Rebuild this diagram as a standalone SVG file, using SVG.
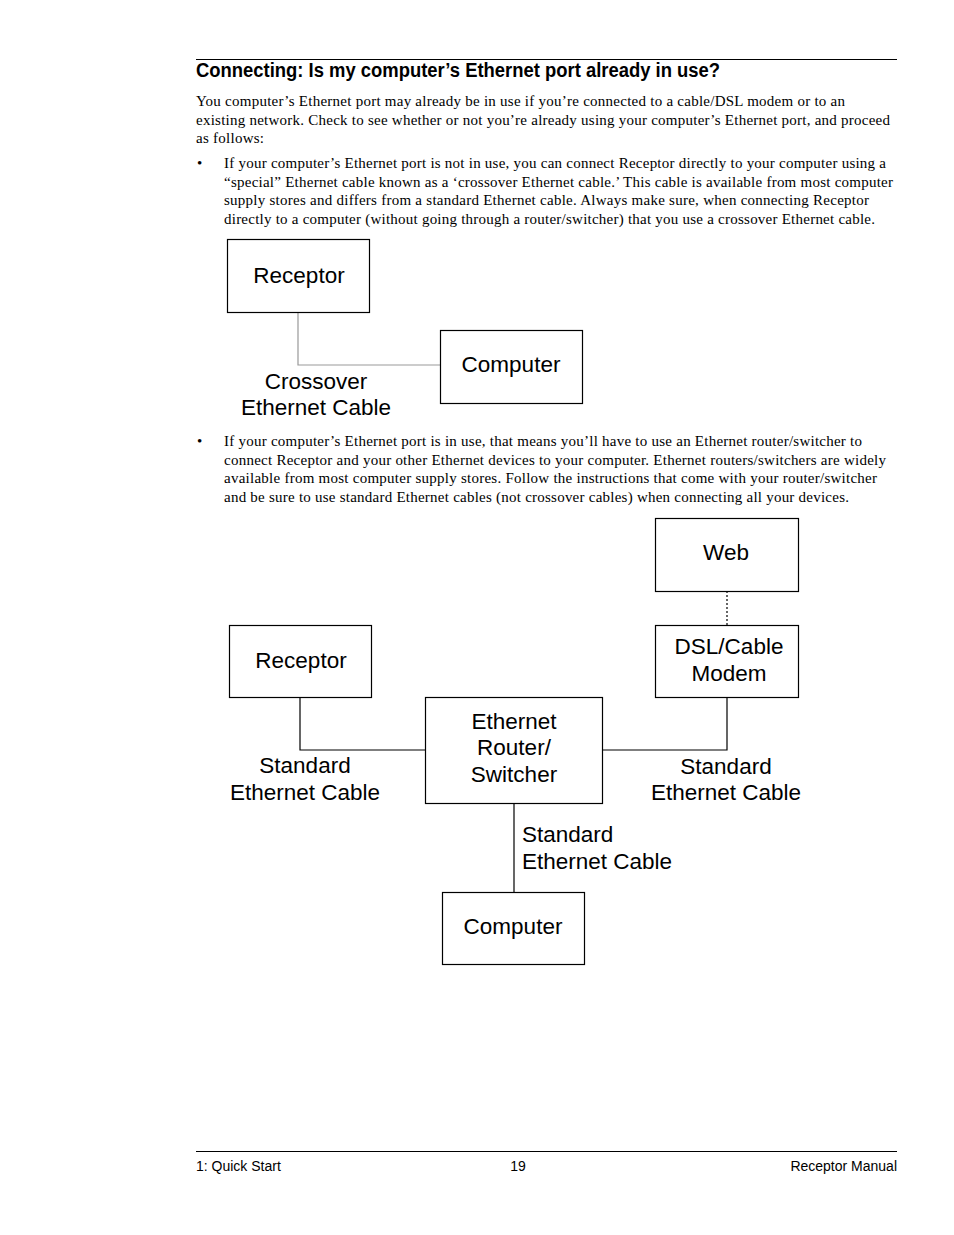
<svg xmlns="http://www.w3.org/2000/svg" width="954" height="1235" viewBox="0 0 954 1235">
<style>
.body{font-family:"Liberation Serif",serif;font-size:15px;fill:#000}
.lbl{font-family:"Liberation Sans",Arial,sans-serif;font-size:22.5px;fill:#000}
.box{fill:#fff;stroke:#000;stroke-width:1.2}
.wire{fill:none;stroke:#000;stroke-width:1.2}
.foot{font-family:"Liberation Sans",Arial,sans-serif;font-size:14px;fill:#000}
</style>
<rect width="954" height="1235" fill="#fff"/>
<line x1="196" y1="59.5" x2="897" y2="59.5" stroke="#000" stroke-width="1"/>
<text x="196" y="77" font-family="'Liberation Sans',Arial,sans-serif" font-weight="bold" font-size="20" textLength="524" lengthAdjust="spacingAndGlyphs">Connecting: Is my computer’s Ethernet port already in use?</text>
<g class="body" lengthAdjust="spacing">
<text x="196" y="106" textLength="649">You computer’s Ethernet port may already be in use if you’re connected to a cable/DSL modem or to an</text>
<text x="196" y="125" textLength="694">existing network. Check to see whether or not you’re already using your computer’s Ethernet port, and proceed</text>
<text x="196" y="143" textLength="68">as follows:</text>
<text x="197" y="168">•</text>
<text x="224" y="168" textLength="662">If your computer’s Ethernet port is not in use, you can connect Receptor directly to your computer using a</text>
<text x="224" y="187" textLength="669">“special” Ethernet cable known as a ‘crossover Ethernet cable.’ This cable is available from most computer</text>
<text x="224" y="205" textLength="645">supply stores and differs from a standard Ethernet cable. Always make sure, when connecting Receptor</text>
<text x="224" y="224" textLength="651">directly to a computer (without going through a router/switcher) that you use a crossover Ethernet cable.</text>
<text x="197" y="446">•</text>
<text x="224" y="446" textLength="638">If your computer’s Ethernet port is in use, that means you’ll have to use an Ethernet router/switcher to</text>
<text x="224" y="465" textLength="662">connect Receptor and your other Ethernet devices to your computer. Ethernet routers/switchers are widely</text>
<text x="224" y="483" textLength="653">available from most computer supply stores. Follow the instructions that come with your router/switcher</text>
<text x="224" y="502" textLength="625">and be sure to use standard Ethernet cables (not crossover cables) when connecting all your devices.</text>
</g>
<g id="connectors">
<polyline class="wire" style="stroke:#999" points="298,312 298,365 440,365"/>
<polyline class="wire" points="300,697 300,750 425,750"/>
<polyline class="wire" points="602,750 727,750 727,697"/>
<line class="wire" x1="727" y1="591" x2="727" y2="625" stroke-dasharray="2,2"/>
<line class="wire" x1="514" y1="803" x2="514" y2="892"/>
</g>
<g id="labels" class="lbl" text-anchor="middle">
<text x="316" y="389">Crossover</text>
<text x="316" y="415">Ethernet Cable</text>
<text x="305" y="773">Standard</text>
<text x="305" y="800">Ethernet Cable</text>
<text x="726" y="774">Standard</text>
<text x="726" y="800">Ethernet Cable</text>
<text x="522" y="842" text-anchor="start">Standard</text>
<text x="522" y="869" text-anchor="start">Ethernet Cable</text>
</g>
<g id="receptor1"><rect class="box" x="227.5" y="239.5" width="142" height="73"/><text class="lbl" x="299" y="283" text-anchor="middle">Receptor</text></g>
<g id="computer1"><rect class="box" x="440.5" y="330.5" width="142" height="73"/><text class="lbl" x="511" y="372" text-anchor="middle">Computer</text></g>
<g id="web"><rect class="box" x="655.5" y="518.5" width="143" height="73"/><text class="lbl" x="726" y="560" text-anchor="middle">Web</text></g>
<g id="modem"><rect class="box" x="655.5" y="625.5" width="143" height="72"/><text class="lbl" x="729" y="654" text-anchor="middle">DSL/Cable</text><text class="lbl" x="729" y="681" text-anchor="middle">Modem</text></g>
<g id="receptor2"><rect class="box" x="229.5" y="625.5" width="142" height="72"/><text class="lbl" x="301" y="668" text-anchor="middle">Receptor</text></g>
<g id="router"><rect class="box" x="425.5" y="697.5" width="177" height="106"/><text class="lbl" x="514" y="729" text-anchor="middle">Ethernet</text><text class="lbl" x="514" y="755" text-anchor="middle">Router/</text><text class="lbl" x="514" y="782" text-anchor="middle">Switcher</text></g>
<g id="computer2"><rect class="box" x="442.5" y="892.5" width="142" height="72"/><text class="lbl" x="513" y="934" text-anchor="middle">Computer</text></g>
<line x1="196" y1="1151.5" x2="897" y2="1151.5" stroke="#000" stroke-width="1"/>
<text class="foot" x="196" y="1171">1: Quick Start</text>
<text class="foot" x="518" y="1171" text-anchor="middle">19</text>
<text class="foot" x="897" y="1171" text-anchor="end">Receptor Manual</text>
</svg>
